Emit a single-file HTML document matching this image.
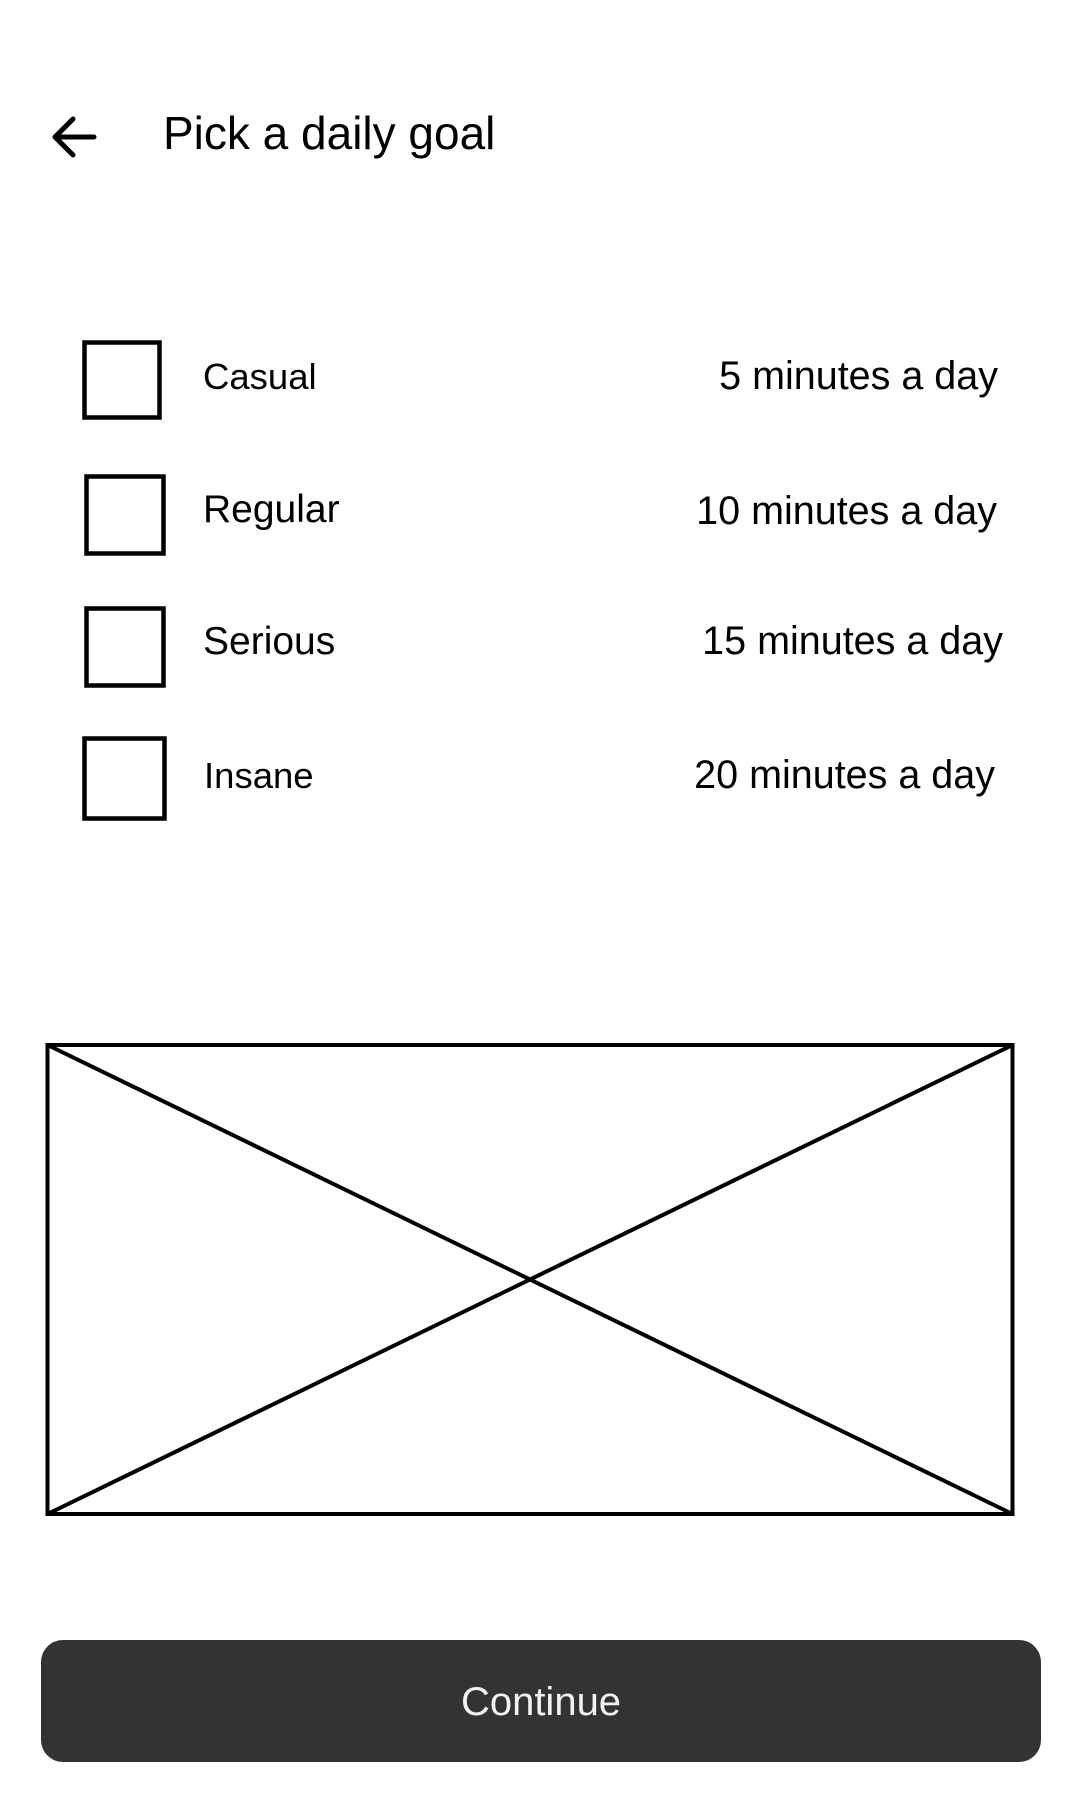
<!DOCTYPE html>
<html><head><meta charset="utf-8"><style>
html,body{margin:0;padding:0;background:#fff;}
svg{display:block;font-family:"Liberation Sans",Arial,sans-serif;}
</style></head><body>
<svg width="1080" height="1800" viewBox="0 0 1080 1800">
<g fill="none" stroke="#000" stroke-width="5" stroke-linecap="round" stroke-linejoin="round">
<path d="M94 137 H55 M73 119 L55 137 L73 155"/>
</g>
<text x="163" y="149" font-size="46" fill="#000">Pick a daily goal</text>

<g>
<rect x="84.5" y="342.5" width="75" height="75" fill="none" stroke="#000" stroke-width="4.5"/>
<text x="203" y="389" font-size="36.5" fill="#000">Casual</text>
<text x="998" y="389" font-size="39.5" fill="#000" text-anchor="end">5 minutes a day</text>
</g>
<g>
<rect x="86.5" y="476.5" width="77" height="77" fill="none" stroke="#000" stroke-width="4.5"/>
<text x="203" y="522" font-size="39" fill="#000">Regular</text>
<text x="997" y="524" font-size="39.5" fill="#000" text-anchor="end">10 minutes a day</text>
</g>
<g>
<rect x="86.5" y="608.5" width="77" height="77" fill="none" stroke="#000" stroke-width="4.5"/>
<text x="203" y="654" font-size="39" fill="#000">Serious</text>
<text x="1003" y="654" font-size="39.5" fill="#000" text-anchor="end">15 minutes a day</text>
</g>
<g>
<rect x="84.5" y="738.5" width="80" height="80" fill="none" stroke="#000" stroke-width="4.5"/>
<text x="204" y="788" font-size="36.5" fill="#000">Insane</text>
<text x="995" y="788" font-size="39.5" fill="#000" text-anchor="end">20 minutes a day</text>
</g>

<g fill="none" stroke="#000" stroke-width="4">
<rect x="47.5" y="1045" width="965" height="469"/>
<line x1="47.5" y1="1045" x2="1012.5" y2="1514"/>
<line x1="1012.5" y1="1045" x2="47.5" y2="1514"/>
</g>

<g>
<rect x="41" y="1640" width="1000" height="122" rx="22" fill="#333"/>
<text x="541" y="1715" font-size="40" fill="#f2f2f2" text-anchor="middle">Continue</text>
</g>
</svg>
</body></html>
